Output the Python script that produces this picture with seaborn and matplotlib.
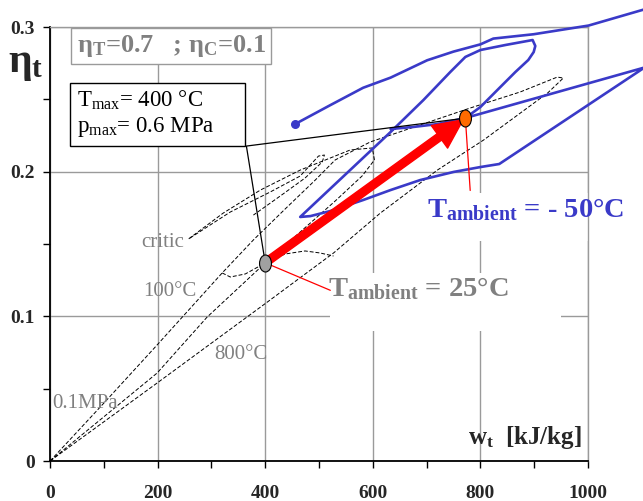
import matplotlib
matplotlib.use("Agg")
import matplotlib.pyplot as plt
from matplotlib.path import Path
from matplotlib.patches import Rectangle
import seaborn as sns

# axis ticks
x_ticks = [0, 200, 400, 600, 800, 1000]
x_tick_labels = ["0", "200", "400", "600", "800", "1000"]
x_minor = [100, 300, 500, 700, 900]
y_ticks = [0, 0.1, 0.2, 0.3]
y_tick_labels = ["0", "0.1", "0.2", "0.3"]
y_minor = [0.05, 0.15, 0.25]

# T_ambient = -50 C curve (blue), two traced strands
blue1_w = [456, 521, 582, 633, 701, 750, 800, 824, 899, 1001, 1103, 1135]
blue1_eta = [0.233, 0.246, 0.258, 0.265, 0.277, 0.283, 0.288, 0.292, 0.295, 0.301, 0.312, 0.315]

blue2_w = [633, 675, 720, 772, 1105, 835, 800, 750, 688, 633, 582, 521, 484, 465,
           540, 633, 694, 744, 772, 800, 847, 897, 902, 899, 889, 865, 837, 800, 772]
blue2_eta = [0.2295, 0.2309, 0.2329, 0.2371, 0.272, 0.2053, 0.2032, 0.1998, 0.1942, 0.1873,
             0.1804, 0.1728, 0.1693, 0.1687, 0.1949, 0.2274, 0.2495, 0.2689, 0.2793, 0.2841,
             0.2876, 0.2910, 0.2869, 0.2827, 0.2772, 0.2689, 0.2585, 0.2447, 0.2371]

# T_ambient = 25 C family (black dashed)
d1_w = [0, 102, 199, 320, 378, 437, 493, 530, 595, 688, 781, 874, 943, 954, 925, 806, 720, 614, 527, 404, 199, 0]
d1_eta = [0, 0.0408, 0.0802, 0.1300, 0.1528, 0.1742, 0.1942, 0.2081, 0.2205, 0.2323, 0.2440, 0.2551,
          0.2654, 0.2647, 0.2544, 0.2219, 0.2011, 0.1714, 0.1438, 0.1099, 0.0539, 0]
d2_w = [0, 199, 292, 400, 465, 530, 580, 603, 599, 558, 465, 391, 322, 255]
d2_eta = [0, 0.0608, 0.0995, 0.1369, 0.1583, 0.1797, 0.1970, 0.2081, 0.2164, 0.2150, 0.2011, 0.1873, 0.1714, 0.1528]
d3_w = [260, 335, 409, 465, 499, 510, 506, 474, 428, 378]
d3_eta = [0.1541, 0.1721, 0.1859, 0.1970, 0.2108, 0.2115, 0.2067, 0.1956, 0.1832, 0.1700]
d4_w = [320, 335, 363, 400]
d4_eta = [0.1300, 0.1272, 0.1293, 0.1369]
d5_w = [400, 437, 474, 502, 527]
d5_eta = [0.1369, 0.1431, 0.1452, 0.1438, 0.1417]

# design points and arrow
pt25 = (400, 0.137)
pt50 = (772, 0.237)
box_corner = (365, 0.2177)

blue = "#3a3ac8"
grey = "#808080"

sns.set_style("white")
plt.rcParams["font.family"] = ["Liberation Serif", "DejaVu Serif"]
plt.rcParams["mathtext.fontset"] = "custom"
plt.rcParams["mathtext.rm"] = "Liberation Serif"
plt.rcParams["mathtext.bf"] = "Liberation Serif:bold"
plt.rcParams["mathtext.it"] = "Liberation Serif:italic"

fig = plt.figure(figsize=(6.43, 5.01), dpi=100)
ax = fig.add_axes([0.0778, 0.0798, 0.8367, 0.8663])

# white patches behind the two ambient labels (they hide the grid)
ax.add_patch(Rectangle((521, 0.090), 429, 0.040, fc="white", ec="none", zorder=1))
ax.add_patch(Rectangle((700, 0.152), 300, 0.033, fc="white", ec="none", zorder=1))

for w, e in [(d1_w, d1_eta), (d2_w, d2_eta), (d3_w, d3_eta), (d4_w, d4_eta), (d5_w, d5_eta)]:
    sns.lineplot(x=w, y=e, sort=False, estimator=None, color="black", lw=0.7,
                 linestyle=(0, (4, 2)), ax=ax, zorder=3)

sns.lineplot(x=blue1_w, y=blue1_eta, sort=False, estimator=None, color=blue, lw=1.9,
             ax=ax, clip_on=False, zorder=4)
sns.lineplot(x=blue2_w, y=blue2_eta, sort=False, estimator=None, color=blue, lw=1.9,
             ax=ax, clip_on=False, zorder=4)
ax.scatter([blue1_w[0]], [blue1_eta[0]], s=30, color=blue, zorder=5)

# leader lines
sns.lineplot(x=[pt25[0], box_corner[0], pt50[0]], y=[pt25[1], box_corner[1], pt50[1]],
             sort=False, estimator=None, color="black", lw=0.9, ax=ax, zorder=5)
sns.lineplot(x=[pt25[0], 521], y=[pt25[1], 0.118], sort=False, estimator=None,
             color="red", lw=0.9, ax=ax, zorder=5)
sns.lineplot(x=[pt50[0], 781], y=[pt50[1], 0.187], sort=False, estimator=None,
             color="red", lw=0.9, ax=ax, zorder=5)

ax.annotate("", xy=pt50, xytext=pt25,
            arrowprops=dict(arrowstyle="simple,head_length=1.05,head_width=1.0,tail_width=0.28",
                            color="red", mutation_scale=20, shrinkA=0, shrinkB=2), zorder=6)

circ = Path.unit_circle()
ell = Path(circ.vertices * [0.7, 1.0], circ.codes)
ax.scatter([pt25[0]], [pt25[1]], marker=ell, s=150, color="#a0a0a0", edgecolor="black", lw=0.8, zorder=7)
ax.scatter([pt50[0]], [pt50[1]], marker=ell, s=150, color="#ff6a00", edgecolor="black", lw=0.8, zorder=7)

# texts
ax.text(225, 0.2869, "η$_\\mathbf{T}$=0.7   ; η$_\\mathbf{C}$=0.1", fontsize=19, fontweight="bold",
        color=grey, ha="center", va="center",
        bbox=dict(boxstyle="square,pad=0.2", fc="white", ec="#9a9a9a", lw=1), zorder=8)
ax.text(50, 0.240, "T$_\\mathrm{max}$= 400 °C       \np$_\\mathrm{max}$= 0.6 MPa", fontsize=16.5,
        color="black", ha="left", va="center", linespacing=1.2,
        bbox=dict(boxstyle="square,pad=0.3", fc="white", ec="black", lw=1), zorder=8)
ax.text(517, 0.119, "T$_\\mathbf{ambient}$ = 25°C", fontsize=20.5, fontweight="bold",
        color=grey, ha="left", va="center", zorder=8)
ax.text(701, 0.1735, "T$_\\mathbf{ambient}$ = - 50°C", fontsize=20.5, fontweight="bold",
        color=blue, ha="left", va="center", zorder=8)
ax.text(210, 0.1507, "critic", fontsize=15, color=grey, ha="center", va="center", zorder=8)
ax.text(223, 0.117, "100°C", fontsize=15, color=grey, ha="center", va="center", zorder=8)
ax.text(355, 0.0733, "800°C", fontsize=15, color=grey, ha="center", va="center", zorder=8)
ax.text(65, 0.040, "0.1MPa", fontsize=15, color=grey, ha="center", va="center", zorder=8)

ax.set_xlim(0, 1000)
ax.set_ylim(0, 0.3)
ax.set_xticks(x_ticks)
ax.set_xticklabels(x_tick_labels, fontsize=14, fontweight="bold")
ax.set_xticks(x_minor, minor=True)
ax.set_yticks(y_ticks)
ax.set_yticklabels(y_tick_labels, fontsize=14, fontweight="bold")
ax.set_yticks(y_minor, minor=True)
ax.tick_params(which="both", direction="out", length=5, width=1, color="black",
               bottom=True, left=True)
ax.tick_params(axis="x", pad=12)
ax.tick_params(axis="y", pad=6)
ax.grid(True, which="major", color="#9a9a9a", lw=1)
ax.set_axisbelow(True)
for s in ["left", "bottom"]:
    ax.spines[s].set_color("black")
    ax.spines[s].set_linewidth(1.3)
for s in ["top", "right"]:
    ax.spines[s].set_color("#9a9a9a")
    ax.spines[s].set_linewidth(1)

ax.set_xlabel("w$_\\mathbf{t}$  [kJ/kg]", fontsize=18, fontweight="bold", va="center")
ax.xaxis.set_label_coords(0.883, 0.055)
ax.set_ylabel("η$_\\mathbf{t}$", fontsize=30, fontweight="bold", rotation=0, va="center")
ax.yaxis.set_label_coords(-0.045, 0.915)

fig.savefig("out.png", dpi=100)
